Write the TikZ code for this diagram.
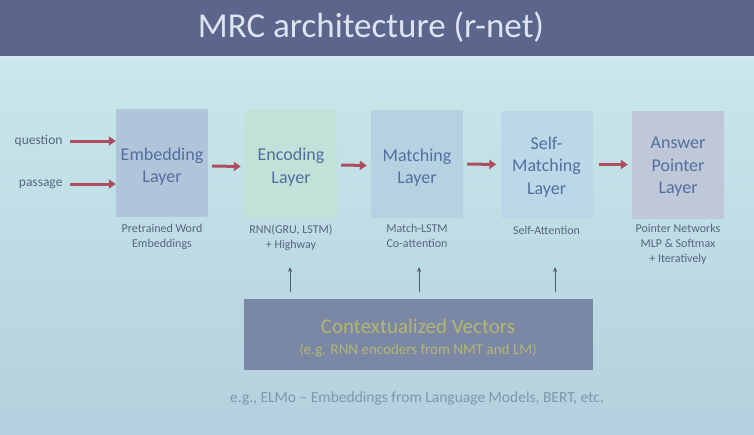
\documentclass[tikz,border=0pt]{standalone}
\usepackage{fontspec}
\setmainfont{Carlito}
\usetikzlibrary{arrows.meta}
\definecolor{bgc}{RGB}{200,232,235}
\definecolor{bgd}{RGB}{180,208,222}
\definecolor{titlec}{RGB}{92,102,140}
\definecolor{titletext}{RGB}{222,228,242}
\definecolor{redarr}{RGB}{172,78,96}
\definecolor{boxtext}{RGB}{84,110,160}
\definecolor{subtext}{RGB}{88,100,128}
\definecolor{embc}{RGB}{176,196,218}
\definecolor{encc}{RGB}{192,226,216}
\definecolor{matc}{RGB}{180,210,226}
\definecolor{selc}{RGB}{186,216,232}
\definecolor{ansc}{RGB}{190,200,216}
\definecolor{ctxc}{RGB}{122,136,166}
\definecolor{ctxtext}{RGB}{180,182,112}
\definecolor{notec}{RGB}{130,150,175}
\definecolor{uparr}{RGB}{80,90,105}
\tikzset{
  layerbox/.style={minimum width=92pt,minimum height=108pt,inner sep=0pt,align=center,
    text=boxtext,font=\fontsize{18}{22.5}\selectfont},
  sublabel/.style={align=center,text=subtext,font=\fontsize{12}{15}\selectfont,anchor=north},
  redarrow/.style={draw=redarr,line width=3pt,-{Triangle[length=7pt,width=9pt]}},
  inlabel/.style={text=subtext,font=\fontsize{13.5}{15}\selectfont,anchor=east},
  uparrow/.style={draw=uparr,line width=1pt,-{Stealth[length=5pt,width=4pt]}}
}
\begin{document}
\begin{tikzpicture}[x=1pt,y=-1pt]
\useasboundingbox (0,0) rectangle (754,434);
\shade[top color=bgc,bottom color=bgd] (0,57) rectangle (754,434);
\fill[titlec] (0,0) rectangle (754,57);
\fill[titletext!70!bgc] (0,56) rectangle (754,59);
\node[text=titletext,font=\fontsize{35}{40}\selectfont] (title) at (371,27) {MRC architecture (r-net)};

\node[layerbox,fill=embc] (emb) at (162,163) {};
\node[layerbox,fill=encc] (enc) at (291,163.5) {};
\node[layerbox,fill=matc] (mat) at (417,164) {};
\node[layerbox,fill=selc] (sel) at (546.5,164.5) {};
\node[layerbox,fill=ansc] (ans) at (678,164.5) {};
\node[layerbox,minimum height=0pt] (embt) at ([yshift=-3.5pt]emb.center) {Embedding\\Layer};
\node[layerbox,minimum height=0pt] (enct) at ([yshift=-3.5pt]enc.center) {Encoding\\Layer};
\node[layerbox,minimum height=0pt] (matt) at ([yshift=-3.5pt]mat.center) {Matching\\Layer};
\node[layerbox,minimum height=0pt] (selt) at ([yshift=-2.5pt]sel.center) {Self-\\Matching\\Layer};
\node[layerbox,minimum height=0pt] (anst) at ([yshift=-2.5pt]ans.center) {Answer\\Pointer\\Layer};

\node[inlabel] (q) at (66,141) {question};
\node[inlabel] (p) at (66,184) {passage};
\draw[redarrow] (q.east) ++(4,0) -- (emb.west |- q.east);
\draw[redarrow] (p.east) ++(4,0) -- (emb.west |- p.east);
\draw[redarrow] ([xshift=4pt,yshift=-3pt]emb.east) -- ([xshift=-4pt,yshift=-3pt]enc.west);
\draw[redarrow] ([xshift=4pt,yshift=-1.5pt]enc.east) -- ([xshift=-4pt,yshift=-1.5pt]mat.west);
\draw[redarrow] ([xshift=4pt]mat.east) -- ([xshift=-4pt]sel.west);
\draw[redarrow] ([xshift=6pt]sel.east) -- ([xshift=-4pt]ans.west);

\node[sublabel] (embs) at (162,221) {Pretrained Word\\Embeddings};
\node[sublabel] (encs) at (291,221) {RNN(GRU, LSTM)\\+ Highway};
\node[sublabel] (mats) at (417,221) {Match-LSTM\\Co-attention};
\node[sublabel] (sels) at (546.5,223) {Self-Attention};
\node[sublabel] (anss) at (678,221) {Pointer Networks\\MLP \& Softmax\\+ Iteratively};

\node[fill=ctxc,minimum width=349pt,minimum height=71pt,inner sep=0pt] (ctx) at (418.5,334.5) {};
\node[text=ctxtext,font=\fontsize{21}{22}\selectfont,inner sep=1pt] (ctx1) at (418,326) {Contextualized Vectors};
\node[text=ctxtext,font=\fontsize{15}{16}\selectfont,inner sep=1pt] (ctx2) at (418,350) {(e.g. RNN encoders from NMT and LM)};
\coordinate (a1) at (290,292);
\coordinate (a2) at (419,292);
\coordinate (a3) at (555,292);
\draw[uparrow] (a1) -- (290,267);
\draw[uparrow] (a2) -- (419,267);
\draw[uparrow] (a3) -- (555,267);

\node[text=notec,font=\fontsize{15.5}{17}\selectfont] (note) at (417,398) {e.g., ELMo – Embeddings from Language Models, BERT, etc.};
\end{tikzpicture}
\end{document}
